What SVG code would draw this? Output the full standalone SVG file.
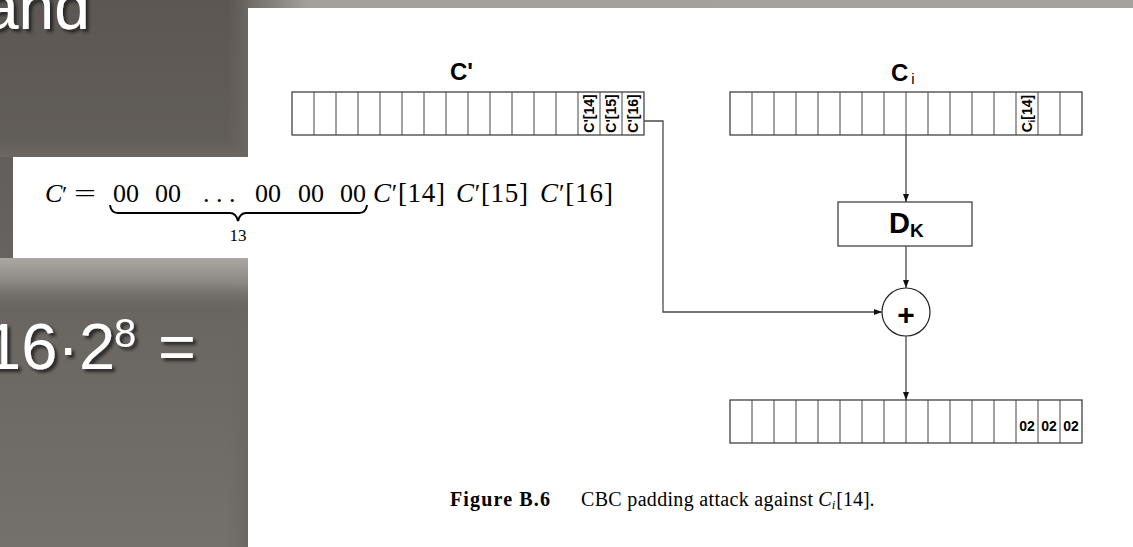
<svg xmlns="http://www.w3.org/2000/svg" width="1133" height="547" viewBox="0 0 1133 547">
  <style>
    .slide { font-family: "Liberation Sans", Arial, sans-serif; fill: #ffffff; }
    .reg { fill: #ffffff; stroke: #333333; stroke-width: 1.2; }
    .cell { stroke: #444444; stroke-width: 1; }
    .wire { fill: none; stroke: #4a4a4a; stroke-width: 1.3; }
    .lbl { font-family: "Liberation Sans", Arial, sans-serif; font-weight: bold; fill: #000000; }
    .math { font-family: "Liberation Serif", "Times New Roman", serif; fill: #000000; }
  </style>
  <defs>
    <linearGradient id="bgDark" x1="0" y1="0" x2="0" y2="1">
      <stop offset="0" stop-color="#5c5752"/>
      <stop offset="1" stop-color="#74706b"/>
    </linearGradient>
    <linearGradient id="topStrip" x1="0" y1="0" x2="1" y2="0">
      <stop offset="0" stop-color="#6f6a65"/>
      <stop offset="0.07" stop-color="#a4a19d"/>
      <stop offset="1" stop-color="#a5a29e"/>
    </linearGradient>
    <linearGradient id="belowBox" x1="0" y1="0" x2="0" y2="1">
      <stop offset="0" stop-color="#aba7a3"/>
      <stop offset="0.45" stop-color="#8a8681"/>
      <stop offset="1" stop-color="#625d58" stop-opacity="0"/>
    </linearGradient>
    <linearGradient id="aboveBox" x1="0" y1="0" x2="0" y2="1">
      <stop offset="0" stop-color="#6a6560" stop-opacity="0"/>
      <stop offset="1" stop-color="#6c6762"/>
    </linearGradient>
    <linearGradient id="edge" x1="0" y1="0" x2="1" y2="0">
      <stop offset="0" stop-color="#6a6560" stop-opacity="0"/>
      <stop offset="1" stop-color="#6c6762"/>
    </linearGradient>
    <filter id="shadow" x="-10%" y="-10%" width="130%" height="140%">
      <feDropShadow dx="3" dy="3" stdDeviation="1.5" flood-color="#1e1b19" flood-opacity="0.8"/>
    </filter>
    <marker id="arrow" viewBox="0 0 8 8" refX="8" refY="4" markerWidth="8" markerHeight="8" markerUnits="userSpaceOnUse" orient="auto">
      <path d="M0,1 L8,4 L0,7 Z" fill="#111111"/>
    </marker>
  </defs>

  <!-- slide background -->
  <g id="background">
    <rect x="0" y="0" width="1133" height="547" fill="url(#bgDark)"/>
    <rect x="228" y="0" width="20" height="547" fill="url(#edge)"/>
    <rect x="0" y="140" width="248" height="17" fill="url(#aboveBox)"/>
    <rect x="0" y="258" width="248" height="56" fill="url(#belowBox)"/>
    <rect x="248" y="0" width="885" height="8" fill="url(#topStrip)"/>
    <rect x="248" y="8" width="885" height="539" fill="#ffffff"/>
  </g>

  <!-- slide texts -->
  <g id="slide-text" filter="url(#shadow)">
    <text class="slide" x="-17" y="29" font-size="64">and</text>
    <text class="slide" y="369" font-size="65"><tspan x="-15">16·2</tspan><tspan x="114" y="347" font-size="40">8</tspan><tspan x="158" y="369">=</tspan></text>
  </g>

  <!-- formula box -->
  <g id="formula">
    <rect x="13" y="157" width="627" height="101" fill="#ffffff"/>
    <text class="math" y="202" font-size="26"><tspan x="45" font-style="italic">C</tspan><tspan x="62" font-size="24">′</tspan></text>
    <text class="math" x="74" y="202" font-size="26" textLength="22" lengthAdjust="spacingAndGlyphs">=</text>
    <text class="math" y="202" font-size="26"><tspan x="113">00</tspan><tspan x="155">00</tspan><tspan x="203">. . .</tspan><tspan x="255">00</tspan><tspan x="298">00</tspan><tspan x="340">00</tspan></text>
    <path d="M110,205 Q111,213 118,213 L230,213 Q236,213 238,221 Q240,213 246,213 L359,213 Q366,213 367,205" fill="none" stroke="#000000" stroke-width="2"/>
    <text class="math" x="238" y="241" font-size="17" text-anchor="middle">13</text>
    <text class="math" x="373" y="202" font-size="27" textLength="72" lengthAdjust="spacing"><tspan font-style="italic">C</tspan><tspan font-size="25">′</tspan><tspan>[14]</tspan></text>
    <text class="math" x="456" y="202" font-size="27" textLength="72" lengthAdjust="spacing"><tspan font-style="italic">C</tspan><tspan font-size="25">′</tspan><tspan>[15]</tspan></text>
    <text class="math" x="540" y="202" font-size="27" textLength="73" lengthAdjust="spacing"><tspan font-style="italic">C</tspan><tspan font-size="25">′</tspan><tspan>[16]</tspan></text>
  </g>

  <!-- C' register -->
  <g id="reg-cprime">
    <text class="lbl" x="450" y="80" font-size="24">C'</text>
    <rect class="reg" x="292" y="92" width="352" height="43"/>
    <g class="cell">
      <line x1="314" y1="92" x2="314" y2="135"/><line x1="336" y1="92" x2="336" y2="135"/>
      <line x1="358" y1="92" x2="358" y2="135"/><line x1="380" y1="92" x2="380" y2="135"/>
      <line x1="402" y1="92" x2="402" y2="135"/><line x1="424" y1="92" x2="424" y2="135"/>
      <line x1="446" y1="92" x2="446" y2="135"/><line x1="468" y1="92" x2="468" y2="135"/>
      <line x1="490" y1="92" x2="490" y2="135"/><line x1="512" y1="92" x2="512" y2="135"/>
      <line x1="534" y1="92" x2="534" y2="135"/><line x1="556" y1="92" x2="556" y2="135"/>
      <line x1="578" y1="92" x2="578" y2="135"/><line x1="600" y1="92" x2="600" y2="135"/>
      <line x1="622" y1="92" x2="622" y2="135"/>
    </g>
    <text class="lbl" font-size="14" text-anchor="middle" transform="translate(594,113.5) rotate(-90)">C'[14]</text>
    <text class="lbl" font-size="14" text-anchor="middle" transform="translate(616,113.5) rotate(-90)">C'[15]</text>
    <text class="lbl" font-size="14" text-anchor="middle" transform="translate(638,113.5) rotate(-90)">C'[16]</text>
  </g>

  <!-- C_i register -->
  <g id="reg-ci">
    <text class="lbl" x="891" y="81" font-size="24">C<tspan font-size="15" font-weight="normal" dx="3" dy="3">i</tspan></text>
    <rect class="reg" x="730" y="92" width="352" height="43"/>
    <g class="cell">
      <line x1="752" y1="92" x2="752" y2="135"/><line x1="774" y1="92" x2="774" y2="135"/>
      <line x1="796" y1="92" x2="796" y2="135"/><line x1="818" y1="92" x2="818" y2="135"/>
      <line x1="840" y1="92" x2="840" y2="135"/><line x1="862" y1="92" x2="862" y2="135"/>
      <line x1="884" y1="92" x2="884" y2="135"/><line x1="906" y1="92" x2="906" y2="135"/>
      <line x1="928" y1="92" x2="928" y2="135"/><line x1="950" y1="92" x2="950" y2="135"/>
      <line x1="972" y1="92" x2="972" y2="135"/><line x1="994" y1="92" x2="994" y2="135"/>
      <line x1="1016" y1="92" x2="1016" y2="135"/><line x1="1038" y1="92" x2="1038" y2="135"/>
      <line x1="1060" y1="92" x2="1060" y2="135"/>
    </g>
    <text class="lbl" font-size="14" text-anchor="middle" transform="translate(1032,113.5) rotate(-90)">C<tspan font-size="9" dy="3">i</tspan><tspan dy="-3">[14]</tspan></text>
  </g>

  <!-- D_K box -->
  <g id="dk">
    <rect class="reg" x="838" y="202" width="134" height="44"/>
    <text class="lbl" x="889" y="233" font-size="29">D<tspan font-size="19" dy="4">K</tspan></text>
  </g>

  <!-- XOR -->
  <g id="xor">
    <circle cx="906" cy="312" r="24" fill="#ffffff" stroke="#222222" stroke-width="1.2"/>
    <text class="lbl" x="906" y="325" font-size="30" text-anchor="middle">+</text>
  </g>

  <!-- output register -->
  <g id="reg-out">
    <rect class="reg" x="730" y="400" width="352" height="43"/>
    <g class="cell">
      <line x1="752" y1="400" x2="752" y2="443"/><line x1="774" y1="400" x2="774" y2="443"/>
      <line x1="796" y1="400" x2="796" y2="443"/><line x1="818" y1="400" x2="818" y2="443"/>
      <line x1="840" y1="400" x2="840" y2="443"/><line x1="862" y1="400" x2="862" y2="443"/>
      <line x1="884" y1="400" x2="884" y2="443"/><line x1="906" y1="400" x2="906" y2="443"/>
      <line x1="928" y1="400" x2="928" y2="443"/><line x1="950" y1="400" x2="950" y2="443"/>
      <line x1="972" y1="400" x2="972" y2="443"/><line x1="994" y1="400" x2="994" y2="443"/>
      <line x1="1016" y1="400" x2="1016" y2="443"/><line x1="1038" y1="400" x2="1038" y2="443"/>
      <line x1="1060" y1="400" x2="1060" y2="443"/>
    </g>
    <text class="lbl" x="1027" y="431" font-size="14" text-anchor="middle">02</text>
    <text class="lbl" x="1049" y="431" font-size="14" text-anchor="middle">02</text>
    <text class="lbl" x="1071" y="431" font-size="14" text-anchor="middle">02</text>
  </g>

  <!-- connectors -->
  <g id="connectors">
    <path class="wire" d="M906,135 L906,202" marker-end="url(#arrow)"/>
    <path class="wire" d="M906,246 L906,288" marker-end="url(#arrow)"/>
    <path class="wire" d="M906,336 L906,400" marker-end="url(#arrow)"/>
    <path class="wire" d="M644,121 L663,121 L663,312 L882,312" marker-end="url(#arrow)"/>
  </g>

  <!-- caption -->
  <g id="caption">
    <text class="math" x="450" y="506" font-size="20" font-weight="bold" textLength="100" lengthAdjust="spacing">Figure B.6</text>
    <text class="math" x="581" y="506" font-size="20"><tspan textLength="232" lengthAdjust="spacing">CBC padding attack against</tspan> <tspan font-style="italic">C</tspan><tspan font-style="italic" font-size="13" dy="3">i</tspan><tspan dy="-3" dx="1">[14].</tspan></text>
  </g>
</svg>
